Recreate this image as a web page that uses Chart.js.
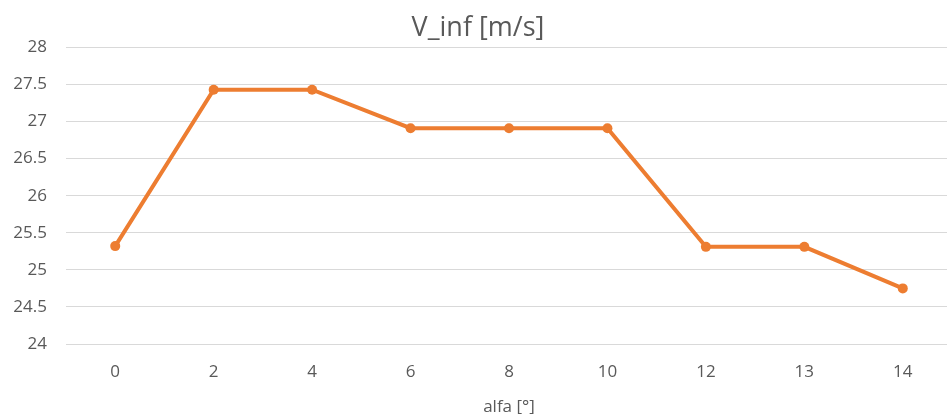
<!DOCTYPE html>
<html>
<head>
<meta charset="utf-8">
<script src="https://cdn.jsdelivr.net/npm/chart.js@4"></script>
<style>
	html, body { margin: 0; padding: 0; background: #fff; overflow: hidden; }
	#wrap { width: 957px; height: 417px; }
</style>
</head>
<body>
<div id="wrap"><canvas id="myChart" width="957" height="417"></canvas></div>
<script>
const alfa = ['0', '2', '4', '6', '8', '10', '12', '13', '14']
const vInf = [25.32, 27.43, 27.43, 26.91, 26.91, 26.91, 25.31, 25.31, 24.75]
const yMin = 24
const yMax = 28
const yStep = 0.5

const textColor = '#595959'
const lineColor = '#ed7d31'
const font = 'Open Sans'

const chart = document.getElementById('myChart')
new Chart(chart, {
	type: 'line',
	data: {
		labels: alfa,
		datasets: [
			{
				data: vInf,
				borderColor: lineColor,
				backgroundColor: lineColor,
				borderWidth: 4,
				pointRadius: 5,
				pointBorderWidth: 0,
				pointBackgroundColor: lineColor,
				tension: 0,
			},
		],
	},
	options: {
		responsive: false,
		animation: false,
		layout: {
			padding: { left: 0, right: 1, top: 0, bottom: 0 },
		},
		scales: {
			x: {
				offset: true,
				grid: { display: false },
				border: { display: false },
				ticks: {
					color: textColor,
					padding: 10,
					font: { family: font, size: 17 },
				},
				title: {
					display: true,
					text: 'alfa [°]',
					color: textColor,
					padding: 0,
					font: { family: font, size: 17 },
				},
				afterFit: (scale) => { scale.height = 73 },
			},
			y: {
				min: yMin,
				max: yMax,
				border: { display: false },
				grid: { color: '#d9d9d9', lineWidth: 1, drawTicks: false },
				ticks: {
					stepSize: yStep,
					color: textColor,
					padding: 19,
					font: { family: font, size: 17 },
					// plain numbers: 28, 27.5, 27 ...
					callback: (value) => String(value),
				},
				afterFit: (scale) => { scale.width = 66 },
			},
		},
		plugins: {
			legend: { display: false },
			tooltip: { enabled: false },
			title: {
				display: true,
				text: 'V_inf [m/s]',
				color: textColor,
				padding: { top: 12, bottom: 3 },
				font: { family: font, size: 27, weight: 'normal' },
			},
		},
	},
})
</script>
</body>
</html>
